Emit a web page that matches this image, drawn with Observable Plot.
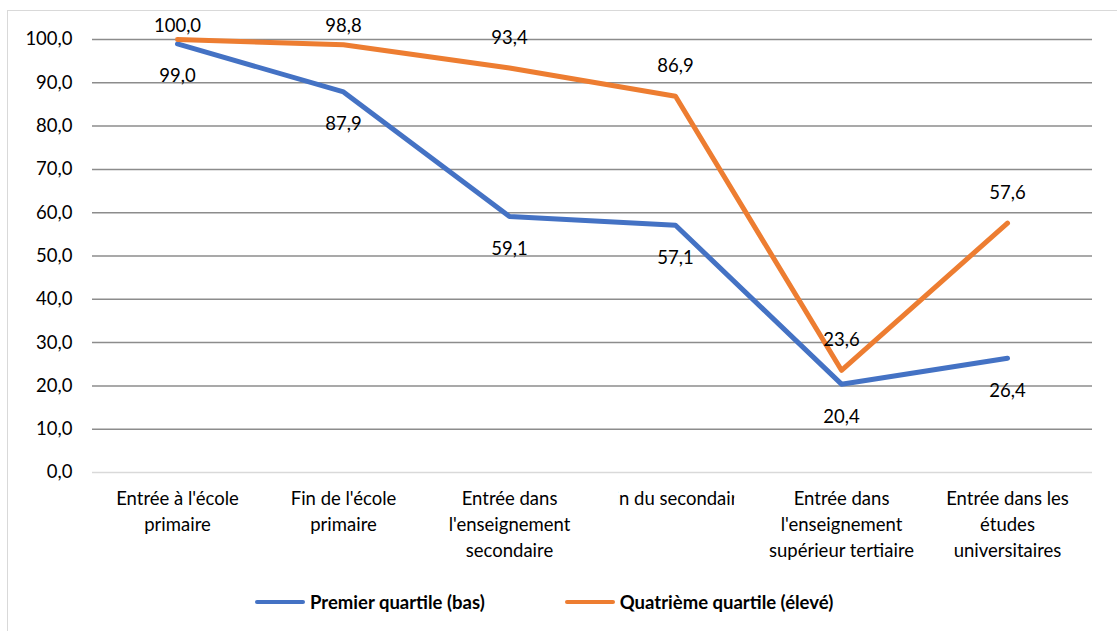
<!DOCTYPE html>
<html>
<head>
<meta charset="utf-8">
<script src="https://cdn.jsdelivr.net/npm/d3@7"></script>
<script src="https://cdn.jsdelivr.net/npm/@observablehq/plot@0.6"></script>
<style>
  html, body { margin: 0; padding: 0; background: #fff; }
  #wrap { position: relative; width: 1117px; height: 631px; overflow: hidden; font-family: Lato, "Open Sans", sans-serif; }
  #frame { position: absolute; left: 7px; top: 10px; width: 1130px; height: 640px; border: 1px solid #d9d9d9; box-sizing: border-box; }
  #chart { position: absolute; left: 0; top: 0; }
  #legend { position: absolute; left: 255px; top: 591px; display: flex; align-items: center; font-weight: bold; font-size: 18.5px; color: #000; }
  .item { display: flex; align-items: center; }
  .sw { width: 50px; height: 4px; border-radius: 2px; margin-right: 5px; }
</style>
</head>
<body>
<div id="wrap">
  <div id="frame"></div>
  <div id="chart"></div>
  <div id="legend"></div>
</div>
<script>
const categories = [
  "Entrée à l'école\nprimaire",
  "Fin de l'école\nprimaire",
  "Entrée dans\nl'enseignement\nsecondaire",
  "Fin du secondaire",
  "Entrée dans\nl'enseignement\nsupérieur tertiaire",
  "Entrée dans les\nétudes\nuniversitaires"
];
const seriesNames = ["Premier quartile (bas)", "Quatrième quartile (élevé)"];
const seriesColors = ["#4472C4", "#ED7D31"];
const premierQuartile = [99.0, 87.9, 59.1, 57.1, 20.4, 26.4];
const quatriemeQuartile = [100.0, 98.8, 93.4, 86.9, 23.6, 57.6];
const yTicks = [0, 10, 20, 30, 40, 50, 60, 70, 80, 90, 100];

const fmt = v => v.toFixed(1).replace(".", ",");

const data = [];
categories.forEach((c, i) => {
  data.push({cat: c, value: premierQuartile[i], series: seriesNames[0]});
  data.push({cat: c, value: quatriemeQuartile[i], series: seriesNames[1]});
});
const blue = data.filter(d => d.series === seriesNames[0]);
const orange = data.filter(d => d.series === seriesNames[1]);

const font = "Lato, 'Open Sans', sans-serif";
const fs = 18.5;

const chart = Plot.plot({
  width: 1117,
  height: 570,
  marginLeft: 92,
  marginRight: 25,
  marginTop: 39,
  marginBottom: 98,
  style: {fontFamily: font, fontSize: fs + "px", color: "#000", background: "transparent"},
  x: {type: "point", domain: categories, padding: 0.5, axis: null},
  y: {domain: [0, 100], ticks: yTicks, tickFormat: fmt, tickSize: 0, tickPadding: 20, label: null},
  color: {domain: seriesNames, range: seriesColors},
  marks: [
    Plot.ruleY(yTicks.filter(t => t > 0), {stroke: "#8c8c8c", strokeWidth: 1.5}),
    Plot.ruleY([0], {stroke: "#d9d9d9", strokeWidth: 1.5}),
    Plot.line(data, {x: "cat", y: "value", z: "series", stroke: "series", strokeWidth: 5, strokeLinejoin: "round", strokeLinecap: "round"}),
    Plot.text(orange, {x: "cat", y: d => Math.min(d.value + 7, 103), text: d => fmt(d.value), fill: "#000", fontSize: fs}),
    Plot.text(blue, {x: "cat", y: d => d.value - 7.5, text: d => fmt(d.value), fill: "#000", fontSize: fs}),
    Plot.text(categories, {x: d => d, text: d => d, frameAnchor: "bottom", lineAnchor: "top", dy: 14, lineHeight: 1.4, fill: "#000", fontSize: fs})
  ]
});

document.getElementById("chart").appendChild(chart);

// Clip the "Fin du secondaire" label as in the reference
const svgEl = chart.tagName.toLowerCase() === "svg" ? chart : chart.querySelector("svg");
const target = Array.from(svgEl.querySelectorAll("text")).find(t => t.textContent === categories[3]);
if (target) {
  const ns = "http://www.w3.org/2000/svg";
  const defs = document.createElementNS(ns, "defs");
  const cp = document.createElementNS(ns, "clipPath");
  cp.setAttribute("id", "clipFin");
  cp.setAttribute("clipPathUnits", "objectBoundingBox");
  const r = document.createElementNS(ns, "rect");
  r.setAttribute("x", 0.1);
  r.setAttribute("y", -0.5);
  r.setAttribute("width", 0.81);
  r.setAttribute("height", 2);
  cp.appendChild(r);
  defs.appendChild(cp);
  svgEl.insertBefore(defs, svgEl.firstChild);
  target.setAttribute("clip-path", "url(#clipFin)");
}

// Legend
const legend = document.getElementById("legend");
seriesNames.forEach((n, i) => {
  const it = document.createElement("div");
  it.className = "item";
  if (i > 0) it.style.marginLeft = "80px";
  const sw = document.createElement("div");
  sw.className = "sw";
  sw.style.background = seriesColors[i];
  const tx = document.createElement("span");
  tx.textContent = n;
  it.appendChild(sw);
  it.appendChild(tx);
  legend.appendChild(it);
});
</script>
</body>
</html>
